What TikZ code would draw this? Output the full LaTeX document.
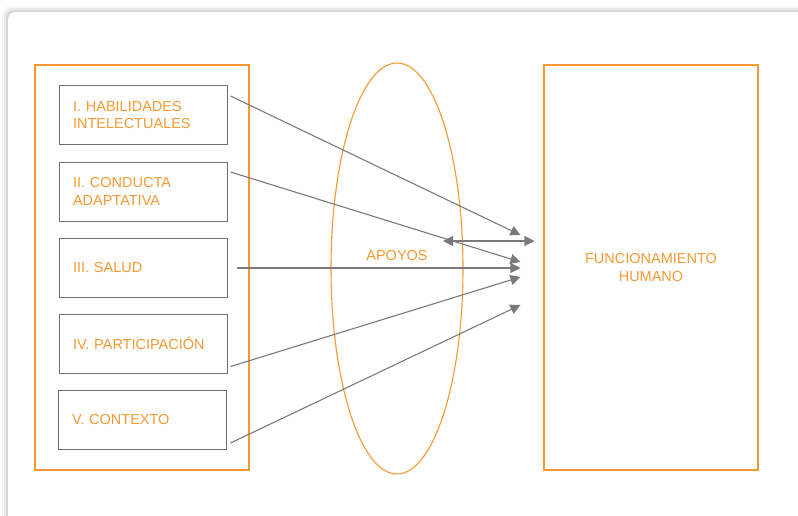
\documentclass[tikz,border=0pt]{standalone}
\usepackage{fontspec}
\setmainfont{Liberation Sans}
\usepackage{tikz}
\usetikzlibrary{arrows.meta, positioning, calc}
\definecolor{softorange}{RGB}{246, 153, 51}
\definecolor{boxgray}{RGB}{110, 110, 110}
\definecolor{arrowgray}{RGB}{122, 122, 122}

\begin{document}
\begin{tikzpicture}[x=1pt, y=-1pt,
    font=\fontsize{14.5}{17.5}\selectfont,
    frame/.style={draw=softorange, line width=1.1pt},
    factor/.style={draw=boxgray, line width=1pt, minimum width=168pt, minimum height=59pt,
      text width=140pt, inner xsep=14pt, align=left, text=softorange},
    link/.style={draw=arrowgray, line width=1.1pt, -{Triangle[length=10pt, width=10pt]}}]
  \useasboundingbox (0,0) rectangle (798,515);
  % card with a soft shadow
  \foreach \o/\a in {6/0.03, 4/0.05, 2/0.08}
    \fill[black, opacity=\a, rounded corners=8pt] (8-\o,12-\o) rectangle (830,560);
  \fill[white, rounded corners=8pt] (8,12) rectangle (830,560);
  % frames
  \node[frame, minimum width=214pt, minimum height=405pt] (dims) at (142,267.5) {};
  \node[frame, minimum width=214pt, minimum height=405pt, text=softorange, align=center] (func) at (651,267.5)
    {FUNCIONAMIENTO\\HUMANO};
  \coordinate (sup) at (397,268.5);
  \draw[frame] (sup) ellipse [x radius=66, y radius=205.5];
  \node[text=softorange] (apoyos) at (397,256) {APOYOS};
  % the five dimensions
  \node[factor] (hab) at (143,115) {I. HABILIDADES\\INTELECTUALES};
  \node[factor] (con) at (143,191.5) {II. CONDUCTA\\ADAPTATIVA};
  \node[factor] (sal) at (143,267.5) {III. SALUD};
  \node[factor] (par) at (143,343.5) {IV. PARTICIPACIÓN};
  \node[factor] (ctx) at (142,419.5) {V. CONTEXTO};
  % arrows to human functioning
  \draw[link] ([shift={(3,-19)}]hab.east) -- ([shift={(-23,-32.5)}]func.west);
  \draw[link] ([shift={(3,-19.5)}]con.east) -- ([shift={(-23,-5.5)}]func.west);
  \draw[link] ([shift={(9,0.5)}]sal.east) -- ([shift={(-23,0.5)}]func.west);
  \draw[link] ([shift={(3,23)}]par.east) -- ([shift={(-23,9.5)}]func.west);
  \draw[link] ([shift={(4,23.5)}]ctx.east) -- ([shift={(-23,37.5)}]func.west);
  \draw[link, {Triangle[length=10pt, width=10pt]}-{Triangle[length=10pt, width=10pt]}]
    ([shift={(46,-27.5)}]sup) -- ([shift={(-9,-26.5)}]func.west);
\end{tikzpicture}
\end{document}
